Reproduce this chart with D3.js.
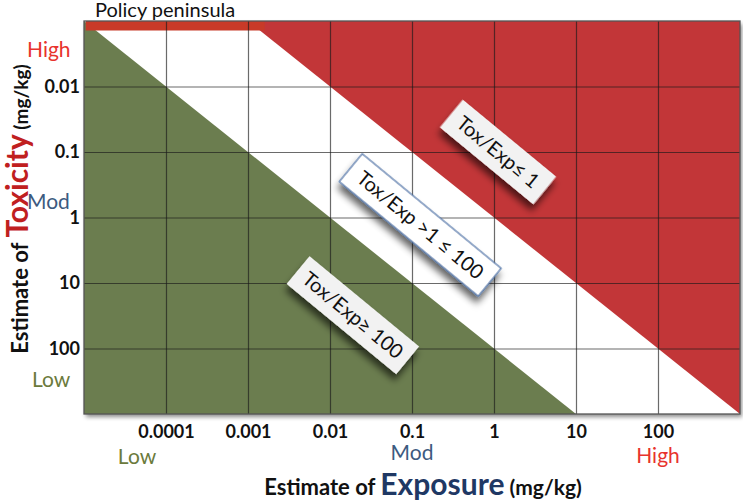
<!DOCTYPE html>
<html>
<head>
<meta charset="utf-8">
<script src="https://cdn.jsdelivr.net/npm/d3@7"></script>
<style>
  html, body { margin: 0; padding: 0; background: #fff; }
  svg { display: block; font-family: Lato, "Open Sans", sans-serif; }
</style>
</head>
<body>
<script>
// tick values (decades) and the labels printed under / beside them
var xTicks = [0.0001, 0.001, 0.01, 0.1, 1, 10, 100];
var xTickLabels = ["0.0001", "0.001", "0.01", "0.1", "1", "10", "100"];
var yTicks = [0.01, 0.1, 1, 10, 100];
var yTickLabels = ["0.01", "0.1", "1", "10", "100"];

// qualitative levels on each axis: [value, label]
var xLevels = [[0.0001, "Low"], [0.1, "Mod"], [100, "High"]];
var yLevels = [[0.0027, "High"], [0.58, "Mod"], [300, "Low"]];

// risk regions, corners as [exposure, toxicity]
var greenZone = [[1e-5, 1e-3], [1e-5, 1e3], [10, 1e3]];            // Tox/Exp >= 100
var redZone = [[1e-3, 1e-3], [1e3, 1e-3], [1e3, 1e3]];             // Tox/Exp <= 1
var peninsula = [[1.05e-5, 1e-3], [1.6e-3, 1e-3], [1.6e-3, 1.4e-3], [1.05e-5, 1.4e-3]];

// boxed annotations: text, centre [exposure, toxicity]
var notes = ["Tox/Exp\u2264 1", "Tox/Exp >1 \u2264 100", "Tox/Exp\u2265 100"];
var noteAt = [[1.12, 0.1], [0.126, 1.3], [0.019, 31]];

var W = 743, H = 502;
var svg = d3.select("body").append("svg").attr("width", W).attr("height", H);

var defs = svg.append("defs");
defs.append("filter").attr("id", "plotShadow").attr("x", "-5%").attr("y", "-5%").attr("width", "110%").attr("height", "110%")
  .append("feDropShadow").attr("dx", 2).attr("dy", 3).attr("stdDeviation", 2)
  .attr("flood-color", "#000").attr("flood-opacity", 0.45);
defs.append("filter").attr("id", "boxShadow").attr("x", "-30%").attr("y", "-60%").attr("width", "160%").attr("height", "220%")
  .append("feDropShadow").attr("dx", 3).attr("dy", 6).attr("stdDeviation", 3.5)
  .attr("flood-color", "#000").attr("flood-opacity", 0.6);

var x = d3.scaleLog().domain([1e-5, 1e3]).range([84, 740]);
var y = d3.scaleLog().domain([1e-3, 1e3]).range([21, 414]);
var x0 = x.range()[0], x1 = x.range()[1], y0 = y.range()[0], y1 = y.range()[1];

var line = d3.line().x(function(d) { return x(d[0]); }).y(function(d) { return y(d[1]); });

// plot background with soft shadow
svg.append("rect").attr("x", x0).attr("y", y0).attr("width", x1 - x0).attr("height", y1 - y0)
  .attr("fill", "#fff").attr("filter", "url(#plotShadow)");

svg.append("path").datum(greenZone).attr("d", function(d) { return line(d) + "Z"; }).attr("fill", "#6b7d4f");
svg.append("path").datum(redZone).attr("d", function(d) { return line(d) + "Z"; }).attr("fill", "#c23638");
svg.append("path").datum(peninsula).attr("d", function(d) { return line(d) + "Z"; }).attr("fill", "#c83a28");

// grid
var grid = svg.append("g").attr("class", "grid");
grid.append("g").attr("transform", "translate(0," + y1 + ")")
  .call(d3.axisBottom(x).tickValues(xTicks).tickSize(-(y1 - y0)).tickFormat(""));
grid.append("g").attr("transform", "translate(" + x0 + ",0)")
  .call(d3.axisLeft(y).tickValues(yTicks).tickSize(-(x1 - x0)).tickFormat(""));
grid.selectAll(".domain").remove();
grid.selectAll("line").attr("stroke", "#1a1a1a").attr("stroke-opacity", 0.65).attr("stroke-width", 1.2);

svg.append("rect").attr("x", x0).attr("y", y0).attr("width", x1 - x0).attr("height", y1 - y0)
  .attr("fill", "none").attr("stroke", "#555").attr("stroke-width", 1.3);

// tick labels
var xa = svg.append("g").attr("transform", "translate(0," + y1 + ")")
  .call(d3.axisBottom(x).tickValues(xTicks).tickSize(0).tickPadding(11)
    .tickFormat(function(d, i) { return xTickLabels[i]; }));
var ya = svg.append("g").attr("transform", "translate(" + (x0 - 4) + ",0)")
  .call(d3.axisLeft(y).tickValues(yTicks).tickSize(0).tickPadding(0)
    .tickFormat(function(d, i) { return yTickLabels[i]; }));
[xa, ya].forEach(function(a) {
  a.select(".domain").remove();
  a.selectAll("text").attr("font-family", "Lato, sans-serif").attr("font-size", 18)
    .attr("font-weight", "bold").attr("fill", "#111");
});

var levelColor = { Low: "#6b7a3c", Mod: "#3d5a80", High: "#e8332d" };
var xLevelDy = { Low: 50, Mod: 46, High: 49 };
svg.selectAll(".xlev").data(xLevels).enter().append("text")
  .attr("x", function(d) { return x(d[0]) + (d[1] == "Low" ? -29 : 0); })
  .attr("y", function(d) { return y1 + xLevelDy[d[1]]; })
  .attr("text-anchor", "middle").attr("font-size", 21)
  .attr("fill", function(d) { return levelColor[d[1]]; })
  .text(function(d) { return d[1]; });
svg.selectAll(".ylev").data(yLevels).enter().append("text")
  .attr("x", function(d) { return d[1] == "Low" ? 32 : 27; })
  .attr("y", function(d) { return y(d[0]); })
  .attr("dy", "0.35em")
  .attr("font-size", 21)
  .attr("fill", function(d) { return levelColor[d[1]]; })
  .text(function(d) { return d[1]; });

// titles
svg.append("text").attr("x", 95).attr("y", 17).attr("font-size", 20).attr("fill", "#111").text("Policy peninsula");

var xt = svg.append("text").attr("x", 423).attr("y", 495).attr("text-anchor", "middle")
  .attr("font-weight", "bold").attr("fill", "#111").attr("font-size", 22);
xt.append("tspan").text("Estimate of ");
xt.append("tspan").attr("font-size", 30).attr("fill", "#1f3864").text("Exposure");
xt.append("tspan").attr("font-size", 21).text(" (mg/kg)");

var yt = svg.append("text").attr("transform", "translate(28,209) rotate(-90)").attr("text-anchor", "middle")
  .attr("font-weight", "bold").attr("fill", "#111").attr("font-size", 22);
yt.append("tspan").text("Estimate of ");
yt.append("tspan").attr("font-size", 30).attr("fill", "#c0201f").text("Toxicity");
yt.append("tspan").attr("font-size", 19).text(" (mg/kg)");

// rotated annotation boxes
var angle = 39.5;
var boxW = [121, 180, 142];
var boxes = svg.selectAll(".note").data(notes).enter().append("g")
  .attr("transform", function(d, i) {
    return "translate(" + x(noteAt[i][0]) + "," + y(noteAt[i][1]) + ") rotate(" + angle + ")";
  });
boxes.append("rect")
  .attr("x", function(d, i) { return -boxW[i] / 2; }).attr("y", -18)
  .attr("width", function(d, i) { return boxW[i]; }).attr("height", 36)
  .attr("fill", function(d, i) { return i == 1 ? "#fff" : "#f2f2f2"; })
  .attr("stroke", function(d, i) { return i == 1 ? "#4a6fa5" : "none"; })
  .attr("stroke-width", 1.2)
  .attr("filter", "url(#boxShadow)");
boxes.append("text").attr("text-anchor", "middle").attr("dy", "0.35em")
  .attr("font-size", 20).attr("fill", "#111").text(function(d) { return d; });
</script>
</body>
</html>
